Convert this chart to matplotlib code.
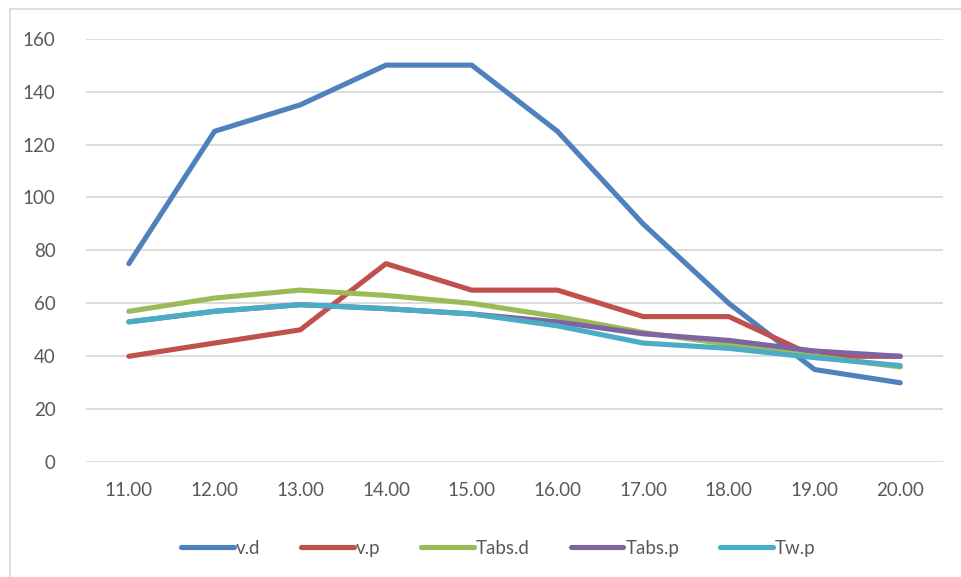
import matplotlib.pyplot as plt
from matplotlib.lines import Line2D

# hourly readings, 11.00 - 20.00
hours = ["11.00", "12.00", "13.00", "14.00", "15.00",
         "16.00", "17.00", "18.00", "19.00", "20.00"]
v_d = [75, 125, 135, 150, 150, 125, 90, 60, 35, 30]
v_p = [40, 45, 50, 75, 65, 65, 55, 55, 40, 40]
tabs_d = [57, 62, 65, 63, 60, 55, 49, 44.5, 40, 36]
tabs_p = [53, 57, 59.5, 58, 56, 53, 48.5, 46, 42, 40]
tw_p = [53, 57, 59.5, 58, 56, 51.5, 45, 43, 39.5, 36.5]

series = [("v.d", v_d, "#4F81BD"),
          ("v.p", v_p, "#C0504D"),
          ("Tabs.d", tabs_d, "#9BBB59"),
          ("Tabs.p", tabs_p, "#8064A2"),
          ("Tw.p", tw_p, "#4BACC6")]

plt.rcParams['font.family'] = ['Lato', 'DejaVu Sans']

fig = plt.figure(figsize=(9.62, 5.77), dpi=100)
ax = fig.add_axes([0.0894, 0.199, 0.891, 0.734])

x = range(len(hours))
for name, vals, col in series:
    ax.plot(x, vals, color=col, lw=3.7, label=name,
            solid_capstyle='round', solid_joinstyle='round')

ax.set_xlim(-0.5, len(hours) - 0.5)
ax.set_ylim(0, 160)
ax.set_yticks(range(0, 161, 20))
ax.set_xticks(list(x))
ax.set_xticklabels(hours)
ax.grid(axis='y', color='#D9D9D9', lw=1.3)
ax.set_axisbelow(True)
for s in ax.spines.values():
    s.set_visible(False)
ax.tick_params(length=0, labelsize=13.5, labelcolor='#595959')
ax.tick_params(axis='y', pad=22)
ax.tick_params(axis='x', pad=14)

handles = [Line2D([], [], color=c, lw=3.7, solid_capstyle='round')
           for _, _, c in series]
fig.legend(handles, [n for n, _, _ in series], loc='center',
           bbox_to_anchor=(0.518, 0.05), ncol=5, frameon=False,
           handlelength=2.8, handletextpad=0.1, columnspacing=2.2,
           fontsize=13.5, labelcolor='#595959')

# chart area border (top and left edges)
fig.add_artist(Line2D([0.0104, 1.0], [0.984, 0.984], color='#D9D9D9', lw=1.2))
fig.add_artist(Line2D([0.0104, 0.0104], [0.0, 0.984], color='#D9D9D9', lw=1.2))

fig.savefig('out.png', dpi=100)
